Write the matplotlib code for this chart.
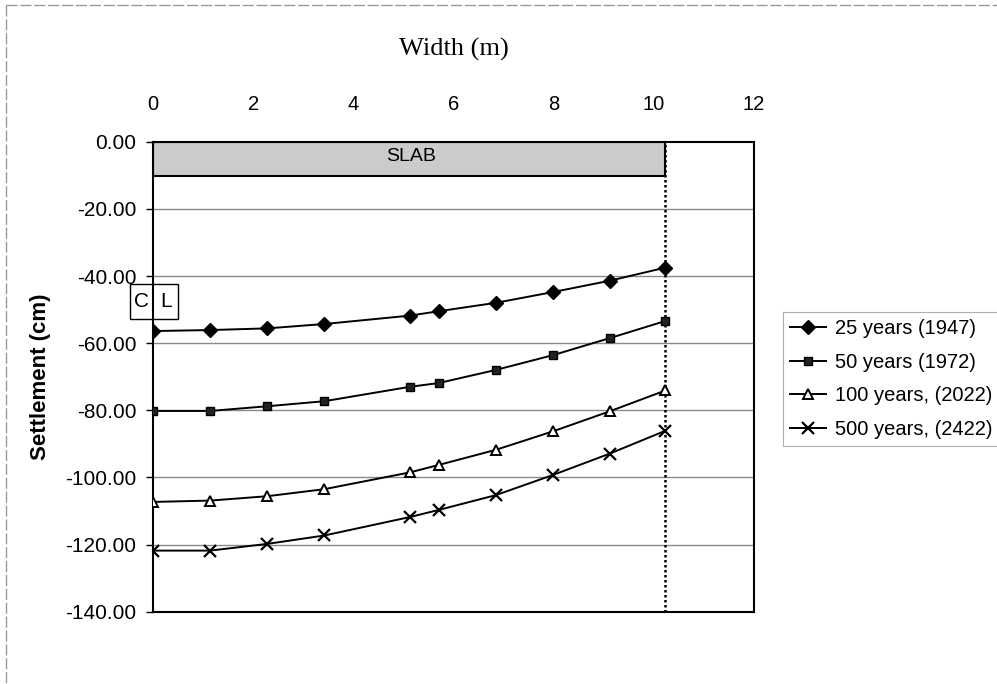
import matplotlib
matplotlib.use("Agg")
import matplotlib.pyplot as plt
from matplotlib.patches import Rectangle
from matplotlib.lines import Line2D

plt.rcParams['font.family'] = ['Liberation Sans', 'DejaVu Sans']

# Distance from the centre line (m)
width_m = [0.0, 1.14, 2.28, 3.42, 5.13, 5.70, 6.84, 7.98, 9.12, 10.23]

# Settlement (cm) at each time horizon
settle_25 = [-56.4, -56.1, -55.6, -54.3, -51.8, -50.5, -48.0, -44.8, -41.4, -37.5]
settle_50 = [-80.2, -80.2, -78.8, -77.3, -73.0, -71.9, -68.0, -63.6, -58.5, -53.4]
settle_100 = [-107.3, -106.9, -105.6, -103.5, -98.5, -96.3, -91.8, -86.3, -80.3, -74.1]
settle_500 = [-121.8, -121.8, -119.8, -117.3, -111.8, -109.7, -105.3, -99.3, -92.9, -86.1]

series_labels = ["25 years (1947)", "50 years (1972)",
                 "100 years, (2022)", "500 years, (2422)"]

y_ticks = [0, -20, -40, -60, -80, -100, -120, -140]
x_ticks = [0, 2, 4, 6, 8, 10, 12]

slab_edge = 10.23
slab_depth = -10.2

fig = plt.figure(figsize=(9.97, 6.84), dpi=100)
ax = fig.add_axes([0.1535, 0.1057, 0.6028, 0.6871])

ax.set_xlim(0, 12)
ax.set_ylim(-140, 0)

# horizontal gridlines
for yv in y_ticks[1:-1]:
    ax.axhline(yv, color='#8a8a8a', lw=1.0, zorder=1)

# slab
ax.add_patch(Rectangle((0, slab_depth), slab_edge, -slab_depth,
                       facecolor='#cbcbcb', edgecolor='black', lw=1.5, zorder=2))
ax.text(5.15, slab_depth / 2 + 0.6, "SLAB", ha='center', va='center', fontsize=14, zorder=3)

# edge of slab
ax.axvline(slab_edge, color='black', ls=(0, (1, 1)), lw=1.8, zorder=2)

styles = [
    dict(marker='D', ms=7, mfc='black', mec='black'),
    dict(marker='s', ms=6, mfc='#222222', mec='black'),
    dict(marker='^', ms=7, mfc='white', mec='black', mew=1.4),
    dict(marker='x', ms=8, mec='black', mew=1.6),
]
for ys, st, lab in zip([settle_25, settle_50, settle_100, settle_500], styles, series_labels):
    ax.plot(width_m, ys, color='black', lw=1.4, label=lab, zorder=4, **st)

# axes styling
for sp in ax.spines.values():
    sp.set_linewidth(1.5)
    sp.set_color('black')
ax.xaxis.tick_top()
ax.set_xticks(x_ticks)
ax.set_xticklabels([str(v) for v in x_ticks])
ax.tick_params(axis='x', length=0, pad=20, labelsize=14.5)
ax.set_yticks(y_ticks)
ax.set_yticklabels([f"{v:.2f}" for v in y_ticks])
ax.tick_params(axis='y', length=5, width=1, pad=7, labelsize=15, direction='out')

ax.set_title("Width (m)", family='Liberation Serif', fontsize=19, pad=62)
ax.set_ylabel("Settlement (cm)", fontsize=16, fontweight='bold', labelpad=10)

# centre-line marker
ax.add_patch(Rectangle((-0.46, -52.9), 0.96, 10.4, facecolor='none',
                       edgecolor='black', lw=1.0, clip_on=False, zorder=5))
ax.text(-0.23, -47.7, "C", ha='center', va='center', fontsize=15, clip_on=False)
ax.text(0.26, -47.7, "L", ha='center', va='center', fontsize=15, clip_on=False)

leg = fig.legend(loc='upper left', bbox_to_anchor=(783 / 997, 1 - 312 / 684),
                 fontsize=14.5, frameon=True, fancybox=False, handlelength=1.8,
                 borderpad=0.35, labelspacing=0.72, handletextpad=0.45,
                 borderaxespad=0)
leg.get_frame().set_edgecolor('#9a9a9a')
leg.get_frame().set_linewidth(0.8)

# outer frame (top and left edges)
fig.add_artist(Line2D([6 / 997, 1.0], [1 - 5 / 684, 1 - 5 / 684], color='#9a9a9a',
                      lw=1.0, ls=(0, (8, 2))))
fig.add_artist(Line2D([6 / 997, 6 / 997], [1 - 5 / 684, 0.0], color='#9a9a9a',
                      lw=1.0, ls=(0, (8, 2))))

fig.savefig("out.png", dpi=100)
